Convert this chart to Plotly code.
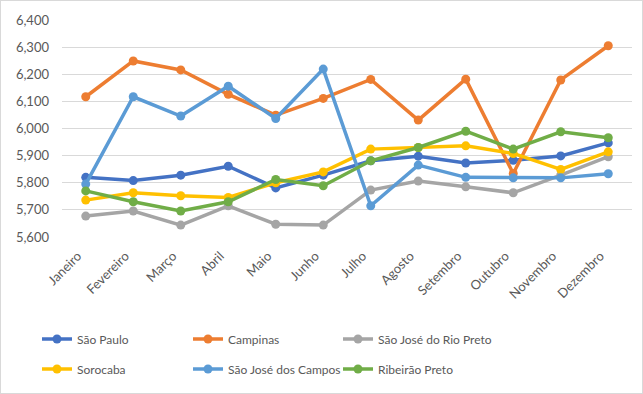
import plotly.graph_objects as go

months = ["Janeiro", "Fevereiro", "Março", "Abril", "Maio", "Junho", "Julho",
          "Agosto", "Setembro", "Outubro", "Novembro", "Dezembro"]

sao_paulo = [5820, 5808, 5828, 5861, 5781, 5828, 5881, 5898, 5873, 5883, 5899, 5947]
campinas = [6117, 6249, 6216, 6126, 6049, 6111, 6181, 6031, 6182, 5834, 6179, 6305]
rio_preto = [5677, 5696, 5644, 5715, 5647, 5644, 5773, 5806, 5785, 5763, 5828, 5896]
sorocaba = [5736, 5763, 5752, 5746, 5800, 5840, 5924, 5930, 5936, 5908, 5849, 5914]
sj_campos = [5795, 6117, 6046, 6156, 6037, 6219, 5715, 5865, 5820, 5818, 5818, 5833]
ribeirao = [5770, 5730, 5696, 5730, 5812, 5789, 5881, 5930, 5990, 5924, 5988, 5966]

series_names = ["São Paulo", "Campinas", "São José do Rio Preto",
                "Sorocaba", "São José dos Campos", "Ribeirão Preto"]
series_values = [sao_paulo, campinas, rio_preto, sorocaba, sj_campos, ribeirao]
series_colors = ["#4472C4", "#ED7D31", "#A5A5A5", "#FFC000", "#5B9BD5", "#70AD47"]

font_family = "Lato, 'Open Sans', sans-serif"
text_color = "#595959"

# legend grid: 3 columns x 2 rows (pixel positions in the 643x394 canvas)
legend_cols = [37, 188, 338]
legend_rows = [339, 369]

fig = go.Figure()
legends = {}
for i, (name, vals, color) in enumerate(zip(series_names, series_values, series_colors)):
    key = "legend" if i == 0 else f"legend{i + 1}"
    fig.add_trace(go.Scatter(
        x=months, y=vals, name=name, mode="lines+markers",
        line=dict(color=color, width=3.5),
        marker=dict(color=color, size=9),
        legend=key, showlegend=True,
    ))
    col, row = i % 3, i // 3
    legends[key] = dict(
        orientation="h", xref="container", yref="container",
        xanchor="left", yanchor="middle",
        x=legend_cols[col] / 643, y=1 - legend_rows[row] / 394,
        font=dict(family=font_family, size=12, color=text_color),
        bgcolor="rgba(0,0,0,0)",
    )

fig.update_layout(
    width=643, height=394, showlegend=True,
    margin=dict(l=62, r=11, t=20, b=157),
    paper_bgcolor="white", plot_bgcolor="white",
    font=dict(family=font_family, size=13, color=text_color),
    xaxis=dict(
        type="category", tickangle=-45, showgrid=False, showline=False,
        ticks="", tickfont=dict(size=13, color=text_color),
        range=[-0.5, 11.5], ticklabelstandoff=8, ticklabelshift=-8,
    ),
    yaxis=dict(
        range=[5600, 6400], dtick=100, tickformat=",",
        showgrid=True, gridcolor="#D9D9D9", gridwidth=1,
        zeroline=False, showline=False, ticks="",
        tickfont=dict(size=13, color=text_color), ticklabelstandoff=12,
    ),
    shapes=[dict(type="rect", xref="paper", yref="paper",
                 x0=-62 / 570, x1=1 + 11 / 570, y0=-157 / 217, y1=1 + 20 / 217,
                 line=dict(color="#D9D9D9", width=2), layer="below")],
    **legends,
)

fig.write_html("out.html", config={"displayModeBar": False},
               post_script="document.body.style.margin='0';document.body.style.overflow='hidden';")
